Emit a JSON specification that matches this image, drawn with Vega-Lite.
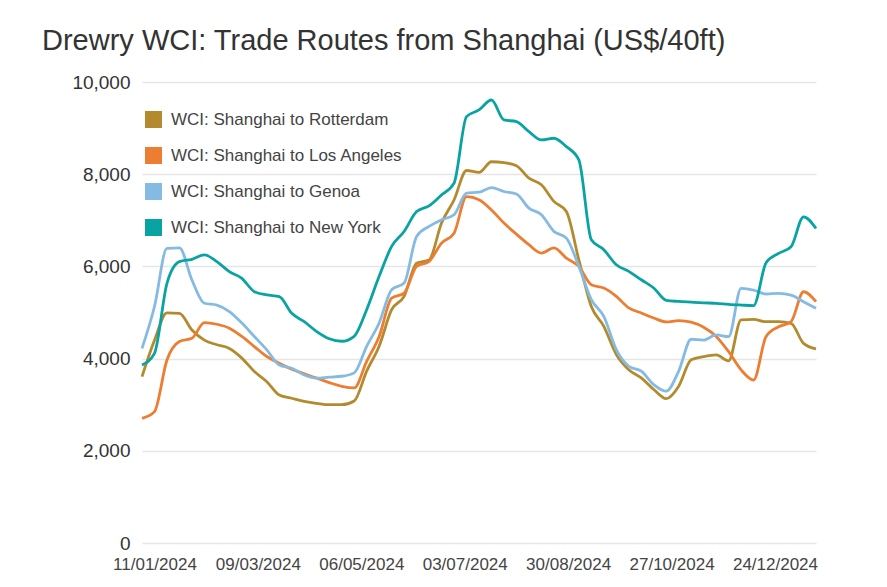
{
  "$schema": "https://vega.github.io/schema/vega-lite/v6.json",
  "width": 674,
  "height": 461,
  "autosize": {"type": "none"},
  "padding": {"left": 142, "top": 82, "right": 71, "bottom": 44},
  "background": "white",
  "view": {"stroke": null},
  "title": {
    "text": "Drewry WCI: Trade Routes from Shanghai (US$/40ft)",
    "anchor": "start",
    "frame": "group",
    "dx": -100,
    "offset": 17,
    "font": "Liberation Sans",
    "fontSize": 29,
    "fontWeight": "normal",
    "color": "#333333"
  },
  "data": {
    "values": [
      {"date": "2024-01-04", "Rotterdam": 3610, "Los Angeles": 2705, "Genoa": 4220, "New York": 3862},
      {"date": "2024-01-11", "Rotterdam": 4400, "Los Angeles": 2850, "Genoa": 5130, "New York": 4115},
      {"date": "2024-01-18", "Rotterdam": 4990, "Los Angeles": 3970, "Genoa": 6390, "New York": 5633},
      {"date": "2024-01-25", "Rotterdam": 4980, "Los Angeles": 4370, "Genoa": 6400, "New York": 6103},
      {"date": "2024-02-01", "Rotterdam": 4620, "Los Angeles": 4440, "Genoa": 5706, "New York": 6154},
      {"date": "2024-02-08", "Rotterdam": 4400, "Los Angeles": 4780, "Genoa": 5200, "New York": 6248},
      {"date": "2024-02-15", "Rotterdam": 4300, "Los Angeles": 4745, "Genoa": 5160, "New York": 6103},
      {"date": "2024-02-22", "Rotterdam": 4220, "Los Angeles": 4660, "Genoa": 5020, "New York": 5886},
      {"date": "2024-02-29", "Rotterdam": 4010, "Los Angeles": 4480, "Genoa": 4770, "New York": 5742},
      {"date": "2024-03-07", "Rotterdam": 3720, "Los Angeles": 4260, "Genoa": 4480, "New York": 5452},
      {"date": "2024-03-14", "Rotterdam": 3500, "Los Angeles": 4045, "Genoa": 4190, "New York": 5380},
      {"date": "2024-03-21", "Rotterdam": 3210, "Los Angeles": 3900, "Genoa": 3860, "New York": 5344},
      {"date": "2024-03-28", "Rotterdam": 3140, "Los Angeles": 3770, "Genoa": 3790, "New York": 4982},
      {"date": "2024-04-04", "Rotterdam": 3070, "Los Angeles": 3670, "Genoa": 3645, "New York": 4802},
      {"date": "2024-04-11", "Rotterdam": 3030, "Los Angeles": 3575, "Genoa": 3575, "New York": 4585},
      {"date": "2024-04-18", "Rotterdam": 3000, "Los Angeles": 3480, "Genoa": 3600, "New York": 4430},
      {"date": "2024-04-25", "Rotterdam": 3000, "Los Angeles": 3400, "Genoa": 3617, "New York": 4376},
      {"date": "2024-05-02", "Rotterdam": 3080, "Los Angeles": 3365, "Genoa": 3690, "New York": 4484},
      {"date": "2024-05-09", "Rotterdam": 3730, "Los Angeles": 3940, "Genoa": 4267, "New York": 5061},
      {"date": "2024-05-16", "Rotterdam": 4270, "Los Angeles": 4480, "Genoa": 4773, "New York": 5784},
      {"date": "2024-05-23", "Rotterdam": 5060, "Los Angeles": 5310, "Genoa": 5495, "New York": 6433},
      {"date": "2024-05-30", "Rotterdam": 5350, "Los Angeles": 5420, "Genoa": 5640, "New York": 6758},
      {"date": "2024-06-06", "Rotterdam": 6070, "Los Angeles": 6000, "Genoa": 6650, "New York": 7191},
      {"date": "2024-06-13", "Rotterdam": 6140, "Los Angeles": 6110, "Genoa": 6867, "New York": 7314},
      {"date": "2024-06-20", "Rotterdam": 6940, "Los Angeles": 6505, "Genoa": 7010, "New York": 7552},
      {"date": "2024-06-27", "Rotterdam": 7440, "Los Angeles": 6720, "Genoa": 7120, "New York": 7805},
      {"date": "2024-07-04", "Rotterdam": 8080, "Los Angeles": 7515, "Genoa": 7590, "New York": 9249},
      {"date": "2024-07-11", "Rotterdam": 8040, "Los Angeles": 7445, "Genoa": 7610, "New York": 9394},
      {"date": "2024-07-18", "Rotterdam": 8270, "Los Angeles": 7225, "Genoa": 7710, "New York": 9610},
      {"date": "2024-07-25", "Rotterdam": 8250, "Los Angeles": 6940, "Genoa": 7625, "New York": 9177},
      {"date": "2024-08-01", "Rotterdam": 8185, "Los Angeles": 6700, "Genoa": 7570, "New York": 9141},
      {"date": "2024-08-08", "Rotterdam": 7913, "Los Angeles": 6470, "Genoa": 7264, "New York": 8924},
      {"date": "2024-08-15", "Rotterdam": 7770, "Los Angeles": 6290, "Genoa": 7120, "New York": 8744},
      {"date": "2024-08-22", "Rotterdam": 7410, "Los Angeles": 6400, "Genoa": 6760, "New York": 8780},
      {"date": "2024-08-29", "Rotterdam": 7190, "Los Angeles": 6180, "Genoa": 6614, "New York": 8599},
      {"date": "2024-09-05", "Rotterdam": 6140, "Los Angeles": 6000, "Genoa": 6000, "New York": 8310},
      {"date": "2024-09-12", "Rotterdam": 5130, "Los Angeles": 5600, "Genoa": 5280, "New York": 6578},
      {"date": "2024-09-19", "Rotterdam": 4700, "Los Angeles": 5530, "Genoa": 4917, "New York": 6361},
      {"date": "2024-09-26", "Rotterdam": 4090, "Los Angeles": 5350, "Genoa": 4195, "New York": 6036},
      {"date": "2024-10-03", "Rotterdam": 3760, "Los Angeles": 5100, "Genoa": 3834, "New York": 5892},
      {"date": "2024-10-10", "Rotterdam": 3580, "Los Angeles": 4990, "Genoa": 3726, "New York": 5711},
      {"date": "2024-10-17", "Rotterdam": 3330, "Los Angeles": 4880, "Genoa": 3437, "New York": 5531},
      {"date": "2024-10-24", "Rotterdam": 3130, "Los Angeles": 4795, "Genoa": 3293, "New York": 5264},
      {"date": "2024-10-31", "Rotterdam": 3400, "Los Angeles": 4825, "Genoa": 3730, "New York": 5240},
      {"date": "2024-11-07", "Rotterdam": 3975, "Los Angeles": 4790, "Genoa": 4420, "New York": 5225},
      {"date": "2024-11-14", "Rotterdam": 4045, "Los Angeles": 4680, "Genoa": 4400, "New York": 5210},
      {"date": "2024-11-21", "Rotterdam": 4080, "Los Angeles": 4480, "Genoa": 4513, "New York": 5199},
      {"date": "2024-11-28", "Rotterdam": 3950, "Los Angeles": 4150, "Genoa": 4477, "New York": 5177},
      {"date": "2024-12-05", "Rotterdam": 4840, "Los Angeles": 3755, "Genoa": 5523, "New York": 5162},
      {"date": "2024-12-12", "Rotterdam": 4850, "Los Angeles": 3535, "Genoa": 5487, "New York": 5150},
      {"date": "2024-12-19", "Rotterdam": 4800, "Los Angeles": 4480, "Genoa": 5401, "New York": 6080},
      {"date": "2024-12-26", "Rotterdam": 4800, "Los Angeles": 4690, "Genoa": 5415, "New York": 6282},
      {"date": "2025-01-02", "Rotterdam": 4765, "Los Angeles": 4800, "Genoa": 5379, "New York": 6426},
      {"date": "2025-01-09", "Rotterdam": 4330, "Los Angeles": 5450, "Genoa": 5235, "New York": 7076},
      {"date": "2025-01-16", "Rotterdam": 4210, "Los Angeles": 5235, "Genoa": 5090, "New York": 6823}
    ]
  },
  "transform": [
    {"fold": ["Rotterdam", "Los Angeles", "Genoa", "New York"], "as": ["route", "rate"]}
  ],
  "mark": {"type": "line", "interpolate": "monotone", "strokeWidth": 2.8},
  "encoding": {
    "x": {
      "field": "date",
      "type": "temporal",
      "scale": {"type": "utc", "nice": false},
      "axis": {
        "title": null,
        "values": [
          {"year": 2024, "month": 1, "date": 11, "utc": true},
          {"year": 2024, "month": 3, "date": 9, "utc": true},
          {"year": 2024, "month": 5, "date": 6, "utc": true},
          {"year": 2024, "month": 7, "date": 3, "utc": true},
          {"year": 2024, "month": 8, "date": 30, "utc": true},
          {"year": 2024, "month": 10, "date": 27, "utc": true},
          {"year": 2024, "month": 12, "date": 24, "utc": true}
        ],
        "format": "%d/%m/%Y",
        "grid": false,
        "domain": false,
        "ticks": false,
        "labelPadding": 13,
        "labelFont": "Liberation Sans",
        "labelFontSize": 17,
        "labelColor": "#444444",
        "labelOverlap": false,
        "labelFlush": false
      }
    },
    "y": {
      "field": "rate",
      "type": "quantitative",
      "scale": {"domain": [0, 10000], "nice": false},
      "axis": {
        "title": null,
        "values": [0, 2000, 4000, 6000, 8000, 10000],
        "format": ",.0f",
        "domain": false,
        "ticks": false,
        "gridColor": "#e6e6e6",
        "gridWidth": 1.5,
        "labelPadding": 12,
        "labelFont": "Liberation Sans",
        "labelFontSize": 19,
        "labelColor": "#333333"
      }
    },
    "color": {
      "field": "route",
      "type": "nominal",
      "scale": {
        "domain": ["Rotterdam", "Los Angeles", "Genoa", "New York"],
        "range": ["#b38b2e", "#ed7d31", "#85bbe3", "#0aa3a3"]
      },
      "legend": {
        "title": null,
        "orient": "none",
        "legendX": 3,
        "legendY": 29,
        "symbolType": "square",
        "symbolSize": 289,
        "symbolStrokeWidth": 0,
        "labelExpr": "'WCI: Shanghai to ' + datum.label",
        "labelFont": "Liberation Sans",
        "labelFontSize": 17,
        "labelColor": "#444444",
        "labelOffset": 9,
        "labelLimit": 0,
        "rowPadding": 18,
        "encode": {
          "symbols": {
            "update": {
              "fill": {"scale": "color", "field": "value"},
              "fillOpacity": {"value": 1},
              "strokeWidth": {"value": 0}
            }
          }
        }
      }
    }
  }
}
